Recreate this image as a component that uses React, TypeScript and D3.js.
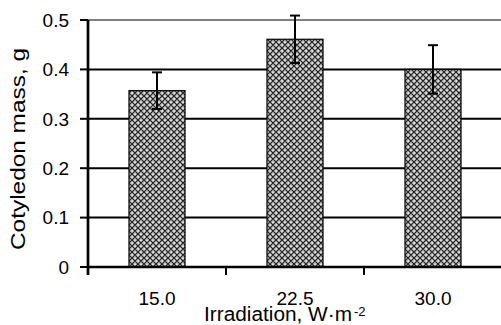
import React, { useRef, useEffect } from "react";
import * as d3 from "d3";

const categories = ["15.0", "22.5", "30.0"];
const meanMass = [0.357, 0.461, 0.4];
const errMass = [0.037, 0.048, 0.049];
const yTicks = [0, 0.1, 0.2, 0.3, 0.4, 0.5];

const App = () => {
  const chartRef = useRef<SVGSVGElement>(null);

  useEffect(() => {
    const width = 501;
    const height = 325;
    const margin = { top: 20, right: -1, bottom: 58, left: 88 };
    const font = "'Liberation Sans', Arial, sans-serif";

    const svg = d3.select(chartRef.current);
    svg.selectAll("*").remove();

    // checkered fill of the bars
    const pat = svg
      .append("defs")
      .append("pattern")
      .attr("id", "checker")
      .attr("patternUnits", "userSpaceOnUse")
      .attr("width", 6)
      .attr("height", 6);
    pat.append("rect").attr("width", 6).attr("height", 6).attr("fill", "#c4c4c4");
    pat
      .append("path")
      .attr("d", "M0,0L6,6M6,0L0,6M-3,3L0,6M3,-3L9,3M-3,3L3,-3M3,9L9,3")
      .attr("stroke", "#222")
      .attr("stroke-width", 1.2);
    pat.append("rect").attr("x", 2.5).attr("y", 0).attr("width", 1).attr("height", 1).attr("fill", "#fff");
    pat.append("rect").attr("x", 0).attr("y", 2.5).attr("width", 1).attr("height", 1).attr("fill", "#fff");

    const x = d3
      .scaleBand()
      .domain(categories)
      .range([margin.left, width - margin.right])
      .paddingInner(0.594)
      .paddingOuter(0.297);

    const y = d3
      .scaleLinear()
      .domain([0, 0.5])
      .range([height - margin.bottom, margin.top]);

    const gap = (x.step() - x.bandwidth()) / 2;

    // gridlines
    svg
      .append("g")
      .selectAll("line")
      .data(yTicks.filter((d) => d > 0))
      .enter()
      .append("line")
      .attr("x1", margin.left)
      .attr("x2", width)
      .attr("y1", (d) => y(d))
      .attr("y2", (d) => y(d))
      .attr("stroke", (d) => (d === 0.5 ? "#808080" : "#000"))
      .attr("stroke-width", 2);

    // bars
    const data = categories.map((c, i) => ({ c, v: meanMass[i], e: errMass[i] }));
    svg
      .append("g")
      .selectAll("rect")
      .data(data)
      .enter()
      .append("rect")
      .attr("x", (d) => x(d.c)!)
      .attr("y", (d) => y(d.v))
      .attr("width", x.bandwidth())
      .attr("height", (d) => y(0) - y(d.v))
      .attr("fill", "url(#checker)")
      .attr("stroke", "#000")
      .attr("stroke-width", 1.2);

    // error bars
    const eb = svg.append("g").attr("stroke", "#000").attr("stroke-width", 2);
    data.forEach((d) => {
      const cx = x(d.c)! + x.bandwidth() / 2;
      eb.append("line").attr("x1", cx).attr("x2", cx).attr("y1", y(d.v + d.e)).attr("y2", y(d.v - d.e));
      eb.append("line").attr("x1", cx - 5).attr("x2", cx + 5).attr("y1", y(d.v + d.e)).attr("y2", y(d.v + d.e));
      eb.append("line").attr("x1", cx - 5).attr("x2", cx + 5).attr("y1", y(d.v - d.e)).attr("y2", y(d.v - d.e));
    });

    // y axis
    const ya = svg.append("g");
    ya.append("line")
      .attr("x1", margin.left)
      .attr("x2", margin.left)
      .attr("y1", y(0.5))
      .attr("y2", y(0) + 8)
      .attr("stroke", "#000")
      .attr("stroke-width", 2.7);
    ya.selectAll(".tick")
      .data(yTicks)
      .enter()
      .append("line")
      .attr("x1", margin.left - 8)
      .attr("x2", margin.left)
      .attr("y1", (d) => y(d))
      .attr("y2", (d) => y(d))
      .attr("stroke", "#000")
      .attr("stroke-width", 2);
    ya.selectAll("text")
      .data(yTicks)
      .enter()
      .append("text")
      .attr("x", margin.left - 19)
      .attr("y", (d) => y(d))
      .attr("dy", "0.36em")
      .attr("text-anchor", "end")
      .style("font-family", font)
      .style("font-size", "19px")
      .text((d) => (d === 0 ? "0" : d.toFixed(1)));

    // x axis
    const xa = svg.append("g");
    xa.append("line")
      .attr("x1", margin.left)
      .attr("x2", width)
      .attr("y1", y(0))
      .attr("y2", y(0))
      .attr("stroke", "#000")
      .attr("stroke-width", 2.7);
    const bounds = categories
      .map((c) => x(c)! - gap)
      .concat([x(categories[categories.length - 1])! + x.bandwidth() + gap]);
    xa.selectAll(".tick")
      .data(bounds)
      .enter()
      .append("line")
      .attr("x1", (d) => d)
      .attr("x2", (d) => d)
      .attr("y1", y(0))
      .attr("y2", y(0) + 8)
      .attr("stroke", "#000")
      .attr("stroke-width", 2);
    xa.selectAll("text")
      .data(categories)
      .enter()
      .append("text")
      .attr("x", (d) => x(d)! + x.bandwidth() / 2)
      .attr("y", 305)
      .attr("text-anchor", "middle")
      .style("font-family", font)
      .style("font-size", "19px")
      .text((d) => d);

    // axis titles
    svg
      .append("text")
      .attr("x", 204)
      .attr("y", 321)
      .attr("textLength", 148)
      .attr("lengthAdjust", "spacingAndGlyphs")
      .style("font-family", font)
      .style("font-size", "19.5px")
      .text("Irradiation, W\u00b7m");
    svg
      .append("text")
      .attr("x", 354)
      .attr("y", 316)
      .style("font-family", font)
      .style("font-size", "13px")
      .text("-2");

    svg
      .append("text")
      .attr("transform", `translate(25,149) rotate(-90)`)
      .attr("text-anchor", "middle")
      .attr("textLength", 202)
      .attr("lengthAdjust", "spacingAndGlyphs")
      .style("font-family", font)
      .style("font-size", "20px")
      .text("Cotyledon mass, g");
  }, []);

  return (
    <svg
      ref={chartRef}
      width={501}
      height={325}
      style={{ position: "absolute", left: 0, top: 0, background: "#fff" }}
    />
  );
};

export default App;
